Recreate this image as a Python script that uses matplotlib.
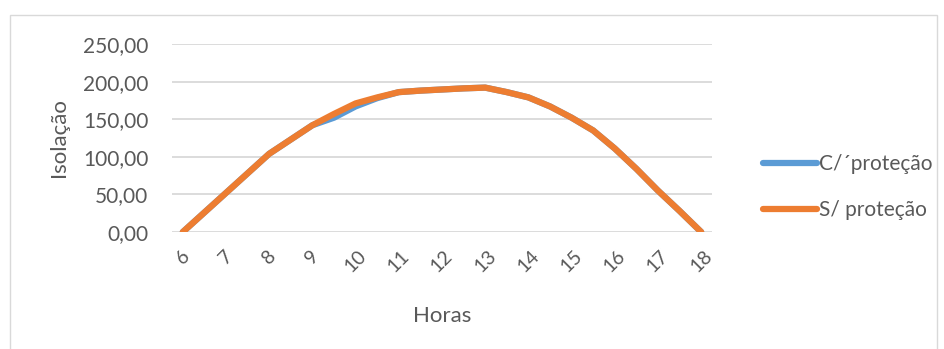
import matplotlib
matplotlib.use("Agg")
import matplotlib.pyplot as plt
from matplotlib.patches import Rectangle

plt.rcParams['font.family'] = ['Lato', 'DejaVu Sans']

hours = [6, 6.5, 7, 7.5, 8, 8.5, 9, 9.5, 10, 10.5, 11, 11.5, 12,
         12.5, 13, 13.5, 14, 14.5, 15, 15.5, 16, 16.5, 17, 17.5, 18]
com_protecao = [0, 26, 52, 78, 104, 123, 142, 152, 167, 178, 186, 188, 189.5,
                191, 192, 186, 179, 167, 152, 135, 111, 84, 55, 28, 0]
sem_protecao = [0, 26, 52, 78, 104, 123, 142, 157, 171, 179, 186, 188, 189.5,
                191, 192, 186, 179, 167, 152, 135, 111, 84, 55, 28, 0]
series_names = ["C/\u00b4prote\u00e7\u00e3o", "S/ prote\u00e7\u00e3o"]
x_ticks = [6, 7, 8, 9, 10, 11, 12, 13, 14, 15, 16, 17, 18]
y_ticks = [0, 50, 100, 150, 200, 250]

W, H = 945, 349
fig = plt.figure(figsize=(W / 100, H / 100), dpi=100)
grey = '#595959'

# outer chart border
fig.patches.append(Rectangle((10 / W, -0.05), (937 - 10) / W, 1.05 - 15 / H,
                             transform=fig.transFigure, fill=False,
                             edgecolor='#D9D9D9', linewidth=1.0))

ax = fig.add_axes([172 / W, 1 - 232 / H, (712 - 172) / W, (232 - 44) / H])
ax.plot(hours, com_protecao, color='#5B9BD5', linewidth=4.5,
        solid_joinstyle='round', solid_capstyle='round', label=series_names[0])
ax.plot(hours, sem_protecao, color='#ED7D31', linewidth=4.5,
        solid_joinstyle='round', solid_capstyle='round', label=series_names[1])

ax.set_xlim(5.75, 18.25)
ax.set_ylim(0, 250)
ax.set_yticks(y_ticks)
ax.set_yticklabels([f"{v:.2f}".replace('.', ',') for v in y_ticks],
                   fontsize=15, color=grey)
ax.set_xticks(x_ticks)
ax.set_xticklabels([str(v) for v in x_ticks], rotation=45, fontsize=14,
                   color=grey, ha='center', va='top')
ax.tick_params(axis='y', length=0, pad=17)
ax.tick_params(axis='x', length=0, pad=11)
ax.grid(axis='y', color='#D9D9D9', linewidth=1.3)
ax.set_axisbelow(True)
for s in ax.spines.values():
    s.set_visible(False)

ax.set_ylabel("Isola\u00e7\u00e3o", fontsize=16, color=grey, labelpad=10)
ax.set_xlabel("Horas", fontsize=16, color=grey, labelpad=22)

fig.legend(loc='center left', bbox_to_anchor=(744 / W, 1 - 187 / H),
           frameon=False, fontsize=15, handlelength=2.6, handletextpad=0.1,
           labelspacing=1.25, labelcolor=grey)

fig.savefig("out.png", dpi=100)
